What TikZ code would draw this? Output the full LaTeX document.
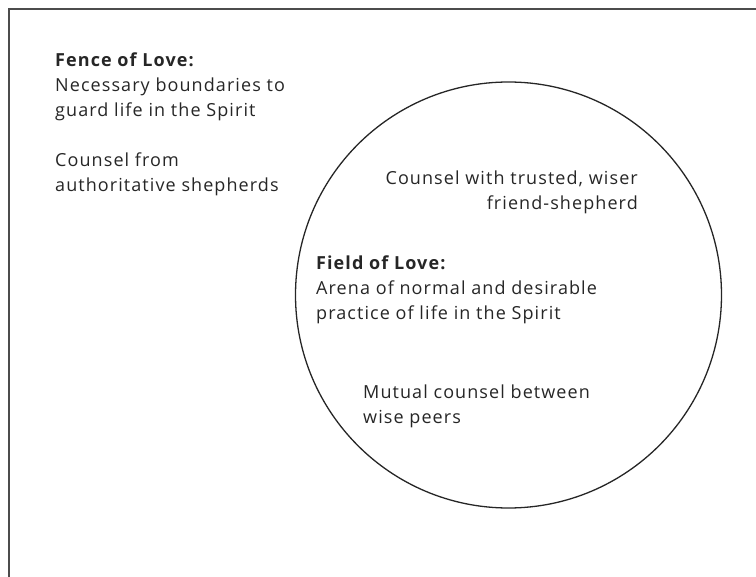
\documentclass[tikz,border=0pt]{standalone}
\usepackage{fontspec}
\setmainfont{Open Sans}[LetterSpace=6]

\tikzset{
    blurb/.style={align=left, anchor=base west, inner sep=0pt,
        font=\fontsize{18}{25.3}\selectfont, text=black!85},
    blurbright/.style={blurb, align=right, anchor=base east}
}

\begin{document}
\begin{tikzpicture}[x=1pt,y=-1pt]
        \useasboundingbox (0,0) rectangle (756,577);

        % Outer frame (fence)
        \draw[line width=1.6pt, black!70] (9,577) -- (9,9) -- (756,9);

        % Field circle
        \draw[line width=1.3pt, black!85] (508.5,295) circle (213);

        % Fence texts (placed at the baseline of their last line)
        \node[blurb] (fence) at (55,116.7) {\textbf{Fence of Love:}\\Necessary boundaries to\\guard life in the Spirit};
        \node[blurb] (shepherds) at (55,191.7) {Counsel from\\authoritative shepherds};

        % Field texts
        \node[blurbright] (friend) at (638,210) {Counsel with trusted, wiser\\friend-shepherd};
        \node[blurb] (field) at (316,320) {\textbf{Field of Love:}\\Arena of normal and desirable\\practice of life in the Spirit};
        \node[blurb] (peers) at (363,424) {Mutual counsel between\\wise peers};
    \end{tikzpicture}
\end{document}
